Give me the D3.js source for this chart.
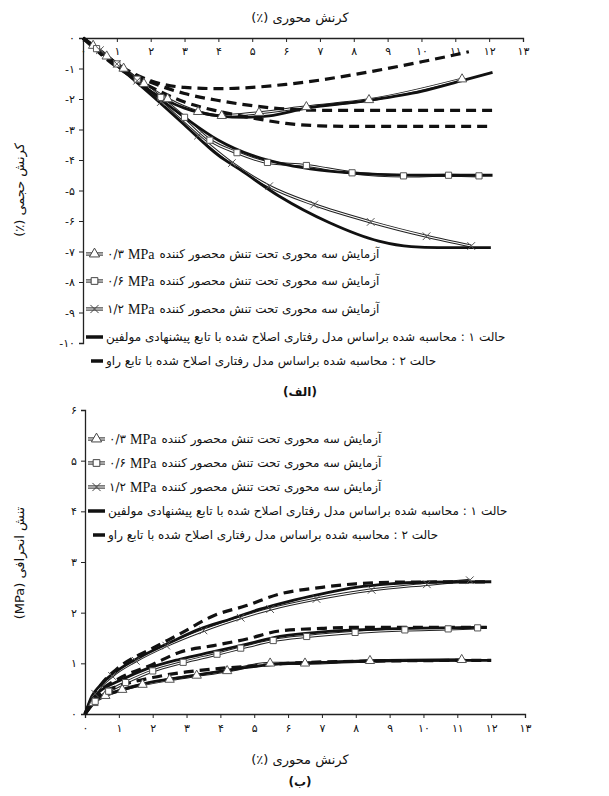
<!DOCTYPE html>
<html>
<head>
<meta charset="utf-8">
<script src="https://cdn.jsdelivr.net/npm/d3@7"></script>
<style>
  body { margin: 0; background: #fff; }
  text { font-family: "DejaVu Sans", sans-serif; fill: #111; }
  .lat { font-family: "Liberation Serif", serif; }
</style>
</head>
<body>
<script>
// axial strain ticks (shared by both panels)
const strainTicks = [0, 1, 2, 3, 4, 5, 6, 7, 8, 9, 10, 11, 12, 13];
const volTicks = [0, -1, -2, -3, -4, -5, -6, -7, -8, -9, -10];
const stressTicks = [0, 1, 2, 3, 4, 5, 6];

// (a) volumetric strain vs axial strain  [axial %, volumetric %]
const volExp03 = [[0,0],[0.3,-0.25],[0.7,-0.6],[1.2,-1.0],[1.8,-1.5],[2.5,-2.0],[3.4,-2.42],[4.1,-2.55],[5.2,-2.45],[6.6,-2.26],[8.45,-2.03],[11.2,-1.35]];
const volExp06 = [[0,0],[0.4,-0.35],[1,-0.85],[1.6,-1.35],[2.3,-1.95],[3,-2.6],[3.75,-3.35],[4.55,-3.76],[5.45,-4.08],[6.6,-4.18],[7.95,-4.42],[9.47,-4.52],[10.8,-4.5],[11.7,-4.52]];
const volExp12 = [[0,0],[0.5,-0.4],[1,-0.85],[1.6,-1.4],[2.3,-2.1],[3.4,-3.2],[4.4,-4.1],[5.5,-4.86],[6.83,-5.46],[8.5,-6.03],[10.15,-6.5],[11.47,-6.82]];
const volCase1_03 = [[0,0],[1,-0.9],[2,-1.75],[3,-2.3],[4,-2.55],[4.8,-2.6],[5.5,-2.55],[6.6,-2.3],[8.4,-2.05],[10,-1.75],[11.2,-1.4],[12.1,-1.13]];
const volCase1_06 = [[0,0],[1,-0.88],[2,-1.75],[3,-2.6],[4,-3.35],[5,-3.85],[6,-4.15],[7,-4.33],[8,-4.43],[9,-4.48],[10,-4.5],[12.1,-4.5]];
const volCase1_12 = [[0,0],[1,-0.9],[2,-1.85],[3,-2.85],[4,-3.85],[4.63,-4.31],[5.8,-5.19],[7.27,-6.05],[8.74,-6.66],[9.7,-6.84],[10.5,-6.87],[12.05,-6.87]];
const volCase2_03 = [[0,0],[1,-0.85],[2,-1.4],[3,-1.62],[4,-1.66],[5,-1.62],[6,-1.52],[7,-1.38],[8,-1.2],[9,-1.0],[10,-0.78],[11,-0.55],[11.4,-0.45]];
const volCase2_06 = [[0,0],[1,-0.9],[2,-1.45],[3,-1.82],[4,-2.05],[5,-2.22],[6,-2.33],[7,-2.37],[12.1,-2.37]];
const volCase2_12 = [[0,0],[1,-0.95],[2,-1.6],[3,-2.1],[4,-2.4],[5,-2.62],[6,-2.8],[7,-2.88],[8,-2.9],[12.1,-2.9]];

// (b) deviatoric stress vs axial strain  [axial %, MPa]
const devExp03 = [[0,0],[0.25,0.22],[0.6,0.36],[1.1,0.48],[1.7,0.58],[2.5,0.68],[3.3,0.76],[4.2,0.85],[5.47,1.0],[6.5,1.0],[8.42,1.05],[11.13,1.07]];
const devExp06 = [[0,0],[0.3,0.25],[0.7,0.45],[1.2,0.62],[2,0.85],[2.9,1.02],[3.9,1.18],[4.6,1.3],[5.56,1.45],[6.55,1.53],[7.98,1.61],[9.45,1.66],[10.73,1.68],[11.6,1.7]];
const devExp12 = [[0,0],[0.3,0.4],[0.8,0.75],[1.5,1.05],[2.4,1.35],[3.5,1.65],[4.6,1.9],[5.47,2.07],[6.84,2.27],[8.47,2.45],[10.1,2.56],[11.37,2.64]];
const devCase1_03 = [[0,0],[0.15,0.2],[0.44,0.33],[1.03,0.46],[1.82,0.61],[2.8,0.72],[3.8,0.82],[4.78,0.92],[5.76,0.99],[7,1.02],[8.5,1.05],[10,1.06],[12,1.06]];
const devCase1_06 = [[0,0],[0.2,0.3],[0.44,0.45],[1.03,0.66],[1.82,0.89],[2.8,1.08],[3.8,1.23],[4.78,1.38],[5.76,1.53],[7,1.62],[8,1.66],[9.5,1.69],[11.87,1.71]];
const devCase1_12 = [[0,0],[0.2,0.35],[0.44,0.56],[1.03,0.89],[1.62,1.12],[2.51,1.41],[3.4,1.68],[4.28,1.87],[5.17,2.07],[6,2.22],[7,2.37],[8,2.5],[9,2.57],[10,2.6],[12,2.61]];
const devCase2_03 = [[0,0],[0.5,0.42],[1,0.55],[2,0.72],[3,0.83],[4,0.9],[5,0.95],[6,1.0],[8,1.04],[12,1.06]];
const devCase2_06 = [[0,0],[0.5,0.48],[1,0.7],[2,0.98],[2.8,1.22],[3.8,1.35],[4.78,1.48],[5.76,1.64],[7,1.69],[8,1.71],[11.87,1.71]];
const devCase2_12 = [[0,0],[0.5,0.6],[1,0.92],[2,1.3],[2.8,1.58],[3.8,1.94],[4.77,2.14],[5.76,2.37],[7,2.5],[8,2.57],[9,2.6],[12,2.61]];

// legend labels
const testLabel = "آزمایش سه محوری تحت تنش محصور کننده";
const confining = ["۰/۳", "۰/۶", "۱/۲"];
const caseLabels = [
  "حالت ۱ : محاسبه شده براساس مدل رفتاری اصلاح شده با تابع پیشنهادی مولفین",
  "حالت ۲ : محاسبه شده براساس مدل رفتاری اصلاح شده با تابع راو"
];

const W = 609, H = 796;
const svg = d3.select("body").append("svg").attr("width", W).attr("height", H);

const fa = v => String(v).replace(/\d/g, d => "۰۱۲۳۴۵۶۷۸۹"[d]);
const markerTypes = [d3.symbolTriangle, d3.symbolSquare, d3.symbolX];

// puts a text with its left edge at `left`, whatever its direction, returns right edge
function placeAt(t, left) {
  const w = t.node().getComputedTextLength();
  t.attr("x", left + w / 2).attr("text-anchor", "middle");
  return left + w;
}

function drawPanel(cfg) {
  const x = cfg.x, y = cfg.y;
  const g = svg.append("g");
  const line = d3.line().x(d => x(d[0])).y(d => y(d[1])).curve(d3.curveMonotoneX);

  // axes
  g.append("g")
   .attr("transform", "translate(0," + cfg.xAxisY + ")")
   .call(d3.axisBottom(x).tickValues(strainTicks).tickFormat(fa).tickSize(4).tickPadding(cfg.xPad))
  g.append("g")
   .attr("transform", "translate(" + x(0) + ",0)")
   .call(d3.axisLeft(y).tickValues(cfg.yTicks).tickFormat(fa).tickSize(4).tickPadding(4))
  g.selectAll(".domain").attr("stroke", "#222").attr("stroke-width", 1.3);
  g.selectAll(".tick line").attr("stroke", "#222");
  g.selectAll(".tick text").style("font-size", "11px").attr("fill", "#111");

  // test curves: double thin line look
  cfg.exp.forEach(s => {
    g.append("path").attr("d", line(s)).attr("fill", "none").attr("stroke", "#222").attr("stroke-width", 3.2);
    g.append("path").attr("d", line(s)).attr("fill", "none").attr("stroke", "#fff").attr("stroke-width", 1.2);
  });
  // case 1 solid
  cfg.case1.forEach(s => {
    g.append("path").attr("d", line(s)).attr("fill", "none").attr("stroke", "#111").attr("stroke-width", 2.8);
  });
  // case 2 dashed
  cfg.case2.forEach(s => {
    g.append("path").attr("d", line(s)).attr("fill", "none").attr("stroke", "#111")
     .attr("stroke-width", 3.2).attr("stroke-dasharray", "10,6");
  });
  // markers
  cfg.exp.forEach((s, i) => {
    g.selectAll(null).data(s.slice(1)).enter().append("path")
     .attr("transform", d => "translate(" + x(d[0]) + "," + y(d[1]) + ")")
     .attr("d", d3.symbol(markerTypes[i], i == 2 ? 40 : 38))
     .attr("fill", i == 2 ? "none" : "#fff").attr("stroke", "#555").attr("stroke-width", 1);
  });

  // legend: symbol on the left, label after it
  const lg = g.append("g");
  const left = x(0) + 22;
  cfg.legendY.forEach((ly, i) => {
    if (i < 3) {
      lg.append("line").attr("x1", left - 19).attr("x2", left - 2).attr("y1", ly).attr("y2", ly)
        .attr("stroke", "#222").attr("stroke-width", 3.2);
      lg.append("line").attr("x1", left - 19).attr("x2", left - 2).attr("y1", ly).attr("y2", ly)
        .attr("stroke", "#fff").attr("stroke-width", 1.2);
      lg.append("path").attr("transform", "translate(" + (left - 10.5) + "," + ly + ")")
        .attr("d", d3.symbol(markerTypes[i], 45))
        .attr("fill", "#fff").attr("stroke", "#444").attr("stroke-width", 1);
      let cx = left + 2;
      cx = placeAt(lg.append("text").attr("y", ly).attr("dy", "0.35em")
                     .style("font-size", "12px").text(confining[i]), cx) + 4;
      cx = placeAt(lg.append("text").attr("class", "lat").attr("y", ly).attr("dy", "0.35em")
                     .style("font-size", "14px").text("MPa"), cx) + 5;
      placeAt(lg.append("text").attr("y", ly).attr("dy", "0.35em").style("direction", "rtl")
                .style("font-size", "12px").text(testLabel), cx);
    } else {
      const solid = i == 3;
      lg.append("line").attr("x1", solid ? left - 19 : left - 14).attr("x2", left - 2)
        .attr("y1", ly).attr("y2", ly).attr("stroke", "#111").attr("stroke-width", 3.5);
      placeAt(lg.append("text").attr("y", ly).attr("dy", "0.35em").style("direction", "rtl")
                .style("font-size", "12px").text(caseLabels[i - 3]), left + 1);
    }
  });

  // titles
  g.append("text").attr("x", 300).attr("y", cfg.xTitleY).attr("text-anchor", "middle")
   .style("direction", "rtl").style("font-size", "13px").text("کرنش محوری (٪)");
  g.append("text").attr("transform", "translate(24," + cfg.yTitleMid + ") rotate(-90)")
   .attr("text-anchor", "middle").style("direction", "rtl").style("font-size", "13px")
   .text(cfg.yTitle);
  g.append("text").attr("x", 300).attr("y", cfg.tagY).attr("text-anchor", "middle")
   .style("direction", "rtl").style("font-size", "12px").style("font-weight", "bold")
   .text(cfg.tag);
}

drawPanel({
  x: d3.scaleLinear().domain([0, 13]).range([83, 523]),
  y: d3.scaleLinear().domain([-10, 0]).range([343, 38]),
  xAxisY: 38, xPad: 5, yTicks: volTicks,
  exp: [volExp03, volExp06, volExp12],
  case1: [volCase1_03, volCase1_06, volCase1_12],
  case2: [volCase2_03, volCase2_06, volCase2_12],
  legendY: [254, 281, 309, 337, 361],
  xTitleY: 22, yTitle: "کرنش حجمی (٪)", yTitleMid: 190,
  tag: "(الف)", tagY: 396
});

drawPanel({
  x: d3.scaleLinear().domain([0, 13]).range([85, 525]),
  y: d3.scaleLinear().domain([0, 6]).range([714, 410]),
  xAxisY: 714, xPad: 6, yTicks: stressTicks,
  exp: [devExp03, devExp06, devExp12],
  case1: [devCase1_03, devCase1_06, devCase1_12],
  case2: [devCase2_03, devCase2_06, devCase2_12],
  legendY: [439, 463, 487, 511, 535],
  xTitleY: 764, yTitle: "تنش انحرافی (MPa)", yTitleMid: 563,
  tag: "(ب)", tagY: 786
});
</script>
</body>
</html>
